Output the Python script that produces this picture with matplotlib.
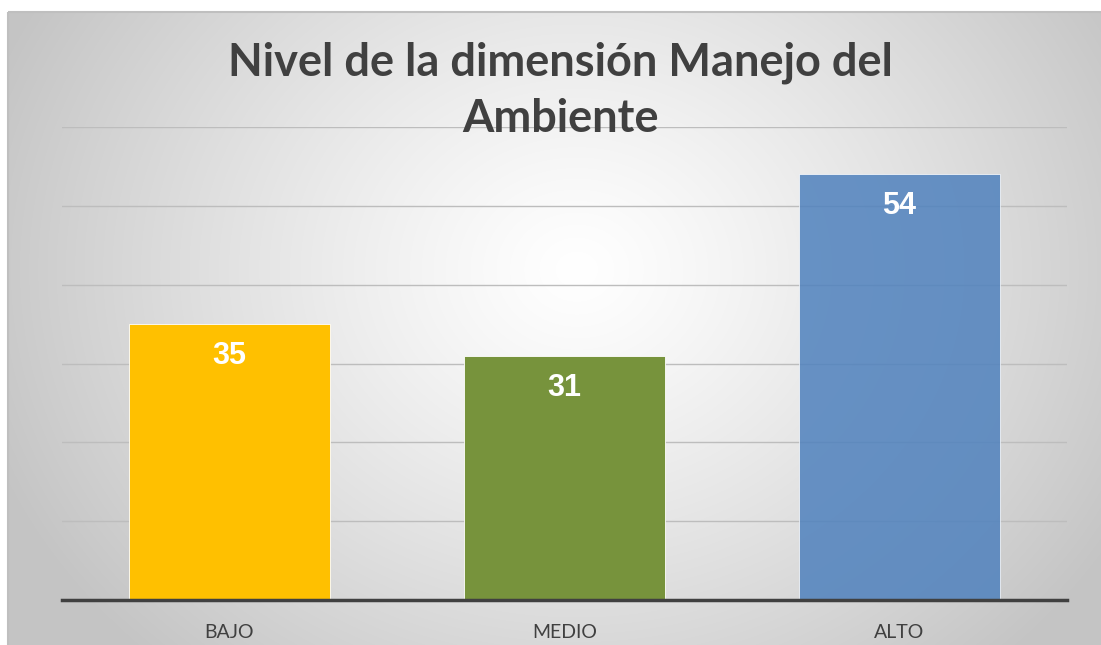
import numpy as np
import matplotlib
matplotlib.use("Agg")
import matplotlib.pyplot as plt
from matplotlib.patches import Rectangle

categories = ["BAJO", "MEDIO", "ALTO"]
values = [35, 31, 54]
colors = ["#FFC000", "#77933C", "#4F81BD"]
title = "Nivel de la dimensión Manejo del\nAmbiente"

W, H = 1101, 645
fig = plt.figure(figsize=(W / 100, H / 100), dpi=100)
fig.patch.set_facecolor("white")

# background gradient panel
bg = fig.add_axes([0, 0, 1, 1], zorder=0)
bg.set_xlim(0, W)
bg.set_ylim(H, 0)
bg.axis("off")
yy, xx = np.mgrid[0:H, 0:W]
cx, cy = 570, 260
r = np.sqrt(((xx - cx) / 650.0) ** 2 + ((yy - cy) / 560.0) ** 2)
inten = 1.0 - 0.24 * np.clip(r, 0, 1.2) ** 1.2
inten = np.clip(inten, 0.77, 1.0)
img = np.dstack([inten, inten, inten])
bg.imshow(img, extent=[8, W + 5, H + 5, 12], aspect="auto", zorder=0, interpolation="bilinear")
bg.add_patch(Rectangle((8, 12), W, H, fill=False, edgecolor="#bfbfbf", lw=1.5, zorder=1))

ax = fig.add_axes([62 / W, 1 - 600 / H, (1067 - 62) / W, (600 - 127) / H], zorder=2)
ax.patch.set_alpha(0)
x = np.arange(len(categories))
bars = ax.bar(x, values, width=0.6, color=colors, edgecolor="#ffffff", linewidth=0.6, zorder=3)
bars[2].set_alpha(0.85)
ax.set_xlim(-0.5, 2.5)
ax.set_ylim(0, 60)
ax.set_yticks(np.arange(0, 61, 10))
ax.yaxis.grid(True, color="#bdbdbd", lw=1.0, zorder=0)
ax.set_axisbelow(True)
ax.tick_params(axis="y", left=False, labelleft=False)
ax.tick_params(axis="x", bottom=False, length=0, pad=17)
ax.set_xticks(x)
ax.set_xticklabels(categories, fontsize=14, color="#404040", family="Lato")
for s in ["top", "right", "left"]:
    ax.spines[s].set_visible(False)
ax.spines["bottom"].set_color("#404040")
ax.spines["bottom"].set_linewidth(2.5)
ax.spines["bottom"].set_zorder(5)

for xi, v in zip(x, values):
    ax.annotate(str(v), (xi, v), xytext=(0, -32), textcoords="offset pixels",
                ha="center", va="center", color="white", fontsize=22, fontweight="bold",
                family="Liberation Sans", zorder=6)

fig.text(560 / W, 1 - 91 / H, title, ha="center", va="center", fontsize=32.5, fontweight="bold",
         color="#404040", family="Lato", linespacing=1.4)

fig.savefig("out.png", dpi=100)
